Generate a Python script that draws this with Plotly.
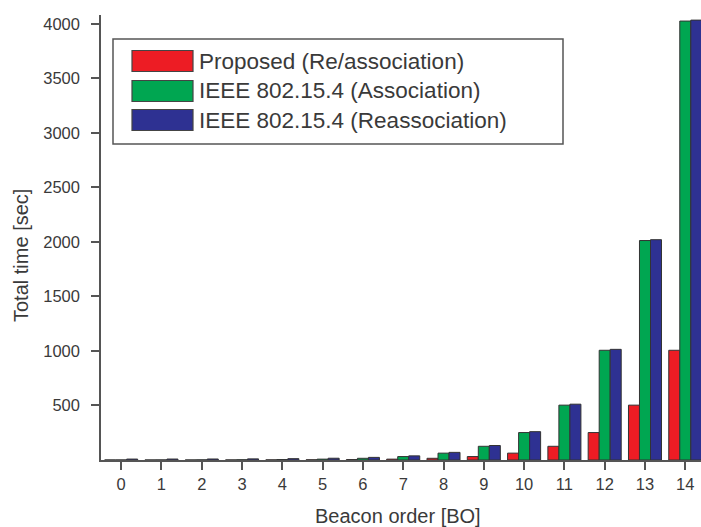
import plotly.graph_objects as go

beacon_order = list(range(15))
tick_labels = [str(b) for b in beacon_order]
series_names = ["Proposed (Re/association)", "IEEE 802.15.4 (Association)", "IEEE 802.15.4 (Reassociation)"]
proposed = [0.06, 0.12, 0.25, 0.49, 0.98, 1.97, 3.9, 7.9, 15.7, 31.5, 62.9, 125.8, 251.7, 503.3, 1006.6]
association = [0.25, 0.5, 1.0, 2.0, 3.9, 7.9, 15.7, 31.5, 62.9, 125.8, 251.7, 503.3, 1006.6, 2013.3, 4026.5]
reassociation = [8.5, 8.8, 9.3, 10.3, 12.2, 16.2, 24.0, 38.0, 70.0, 133.0, 260.0, 512.0, 1015.0, 2021.0, 4035.0]
y_ticks = [500, 1000, 1500, 2000, 2500, 3000, 3500, 4000]

colors = ["#ED1C24", "#00A651", "#2E3192"]
FONT = "Liberation Sans, Arial, sans-serif"

W, H = 701, 527
L, R, T, B = 101, 0, 15, 67
PW, PH = W - L - R, H - T - B

def px(x):
    return (x - L) / PW

def py(y):
    return (H - B - y) / PH

fig = go.Figure()
for name, vals, c in zip(series_names, [proposed, association, reassociation], colors):
    fig.add_trace(go.Bar(
        x=beacon_order, y=vals, name=name, showlegend=False,
        marker=dict(color=c, line=dict(color="#333333", width=1)),
    ))

# custom legend (box, swatches, labels)
fig.add_shape(type="rect", xref="paper", yref="paper",
              x0=px(113), x1=px(563), y0=py(144), y1=py(39),
              line=dict(color="#555555", width=1.5), fillcolor="white", layer="above")
for i, (name, c) in enumerate(zip(series_names, colors)):
    cy = [61, 91, 120][i]
    fig.add_shape(type="rect", xref="paper", yref="paper",
                  x0=px(132), x1=px(193), y0=py(cy + 10.5), y1=py(cy - 10.5),
                  line=dict(color="#444444", width=1.2), fillcolor=c, layer="above")
    fig.add_annotation(xref="paper", yref="paper", x=px(197), y=py(cy),
                       text=name, showarrow=False, xanchor="left", yanchor="middle",
                       font=dict(family=FONT, size=22.5, color="#3a3a3a"))

fig.update_layout(
    width=W, height=H,
    margin=dict(l=L, r=R, t=T, b=B),
    paper_bgcolor="white", plot_bgcolor="white",
    barmode="group", bargap=0.18, bargroupgap=0,
    font=dict(family=FONT, color="#3a3a3a"),
)
fig.update_xaxes(
    range=[-0.5, 14.39], tickmode="array", tickvals=beacon_order, ticktext=tick_labels,
    showline=True, linecolor="#555555", linewidth=1.5,
    ticks="outside", ticklen=8, tickwidth=1.5, tickcolor="#555555",
    tickfont=dict(family=FONT, size=16.5, color="#3a3a3a"),
    showgrid=False, zeroline=False,
)
fig.update_yaxes(
    range=[0, 4082], tickmode="array", tickvals=y_ticks,
    showline=True, linecolor="#555555", linewidth=1.5,
    ticks="outside", ticklen=8, tickwidth=1.5, tickcolor="#555555",
    tickfont=dict(family=FONT, size=16.5, color="#3a3a3a"),
    ticklabelstandoff=8,
    showgrid=False, zeroline=False,
)
fig.add_annotation(xref="paper", yref="paper", x=px(21), y=py(256),
                   text="Total time [sec]", showarrow=False, textangle=-90,
                   xanchor="center", yanchor="middle",
                   font=dict(family=FONT, size=20, color="#3a3a3a"))
fig.add_annotation(xref="paper", yref="paper", x=px(398), y=py(516),
                   text="Beacon order [BO]", showarrow=False,
                   xanchor="center", yanchor="middle",
                   font=dict(family=FONT, size=20, color="#3a3a3a"))

fig.write_html("out.html", config={"displayModeBar": False},
               post_script="document.body.style.margin='0';document.body.style.overflow='hidden';")
